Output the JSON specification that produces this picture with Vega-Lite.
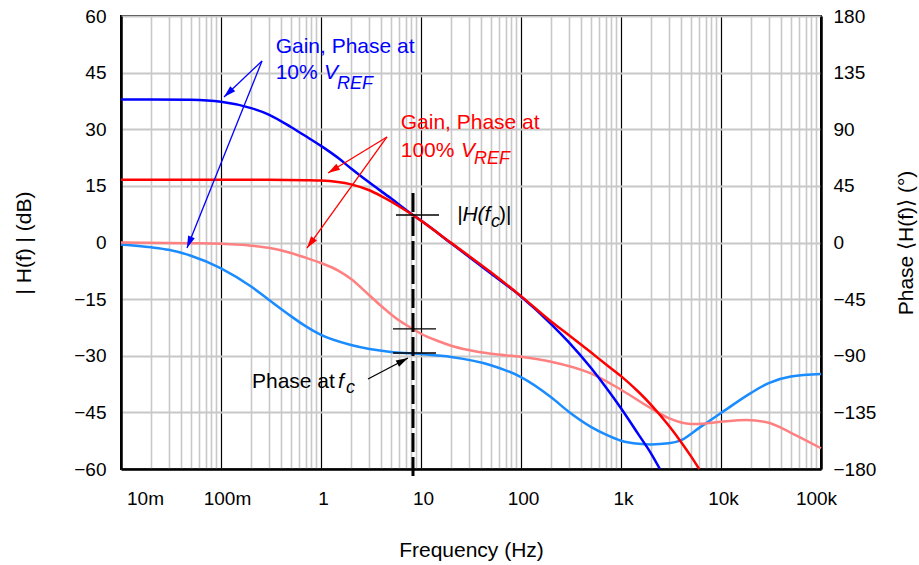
{
  "$schema": "https://vega.github.io/schema/vega-lite/v6.json",
  "width": 700,
  "height": 453,
  "autosize": {"type": "none"},
  "padding": {"left": 121, "top": 16, "right": 98, "bottom": 96},
  "config": {
    "font": "Liberation Sans",
    "view": {"stroke": "black", "strokeWidth": 2},
    "axis": {
      "labelFont": "Liberation Sans", "labelFontSize": 19, "labelColor": "black",
      "titleFont": "Liberation Sans", "titleFontSize": 21, "titleFontWeight": "normal", "titleColor": "black",
      "ticks": false, "domainColor": "black", "domainWidth": 2.5,
      "gridColor": "#c8c8c8", "gridWidth": 2, "labelOverlap": false, "labelFlush": false
    }
  },
  "datasets": {
    "blueGain": [
      {"f": 0.01, "db": 37.9}, {"f": 0.02, "db": 37.9}, {"f": 0.05, "db": 37.8}, {"f": 0.1, "db": 37.3},
      {"f": 0.2, "db": 35.6}, {"f": 0.3, "db": 33.9}, {"f": 0.5, "db": 30.6}, {"f": 0.7, "db": 28.2},
      {"f": 1, "db": 25.6}, {"f": 1.5, "db": 22.3}, {"f": 2, "db": 19.6}, {"f": 3, "db": 16.0},
      {"f": 5, "db": 11.7}, {"f": 8.3, "db": 7.3}, {"f": 10, "db": 5.8}, {"f": 20, "db": -0.2},
      {"f": 50, "db": -8.2}, {"f": 100, "db": -14.3}, {"f": 200, "db": -21.6}, {"f": 300, "db": -26.4},
      {"f": 500, "db": -33.2}, {"f": 700, "db": -38.2}, {"f": 1000, "db": -43.9}, {"f": 1500, "db": -50.9},
      {"f": 2000, "db": -55.9}, {"f": 2450, "db": -60}
    ],
    "redGain": [
      {"f": 0.01, "db": 16.6}, {"f": 0.1, "db": 16.6}, {"f": 0.3, "db": 16.6}, {"f": 0.7, "db": 16.5},
      {"f": 1, "db": 16.4}, {"f": 2, "db": 15.4}, {"f": 3, "db": 13.9}, {"f": 4, "db": 12.3},
      {"f": 5, "db": 10.9}, {"f": 6, "db": 9.6}, {"f": 8.3, "db": 7.3}, {"f": 10, "db": 5.8},
      {"f": 20, "db": -0.1}, {"f": 50, "db": -7.9}, {"f": 100, "db": -14.2}, {"f": 200, "db": -20.9},
      {"f": 300, "db": -24.5}, {"f": 500, "db": -29.1}, {"f": 700, "db": -32.2}, {"f": 1000, "db": -35.4},
      {"f": 1500, "db": -39.6}, {"f": 2000, "db": -43.0}, {"f": 3000, "db": -48.5}, {"f": 4000, "db": -52.9},
      {"f": 5000, "db": -56.6}, {"f": 6050, "db": -60}
    ],
    "bluePhase": [
      {"f": 0.01, "ph": -1.5}, {"f": 0.02, "ph": -3.8}, {"f": 0.03, "ph": -5.8}, {"f": 0.05, "ph": -10.5},
      {"f": 0.1, "ph": -20.5}, {"f": 0.2, "ph": -35}, {"f": 0.3, "ph": -45.5}, {"f": 0.5, "ph": -58.5},
      {"f": 0.7, "ph": -66.5}, {"f": 1, "ph": -73.5}, {"f": 2, "ph": -81.5}, {"f": 5, "ph": -87},
      {"f": 8.3, "ph": -88.2}, {"f": 10, "ph": -88.7}, {"f": 20, "ph": -91}, {"f": 50, "ph": -97.5},
      {"f": 100, "ph": -107}, {"f": 200, "ph": -123}, {"f": 300, "ph": -134.5}, {"f": 500, "ph": -146.5},
      {"f": 700, "ph": -152.5}, {"f": 1000, "ph": -157.5}, {"f": 1500, "ph": -160}, {"f": 2000, "ph": -160.5},
      {"f": 3000, "ph": -159.6}, {"f": 4000, "ph": -157}, {"f": 6000, "ph": -147.5}, {"f": 10000, "ph": -135.5},
      {"f": 20000, "ph": -119.5}, {"f": 30000, "ph": -111.7}, {"f": 50000, "ph": -106.5}, {"f": 100000, "ph": -104.5}
    ],
    "pinkPhase": [
      {"f": 0.01, "ph": 0}, {"f": 0.05, "ph": -0.5}, {"f": 0.1, "ph": -1}, {"f": 0.2, "ph": -2.5},
      {"f": 0.3, "ph": -4.2}, {"f": 0.5, "ph": -8.3}, {"f": 0.7, "ph": -12}, {"f": 1, "ph": -16.3},
      {"f": 1.5, "ph": -22.5}, {"f": 2, "ph": -29}, {"f": 3, "ph": -41.5}, {"f": 4, "ph": -50.5},
      {"f": 5, "ph": -57}, {"f": 6, "ph": -61.8}, {"f": 8.3, "ph": -68.7}, {"f": 10, "ph": -72.5},
      {"f": 15, "ph": -78.5}, {"f": 20, "ph": -82}, {"f": 30, "ph": -85.5}, {"f": 50, "ph": -88.5},
      {"f": 100, "ph": -90.8}, {"f": 200, "ph": -94.7}, {"f": 500, "ph": -104}, {"f": 1000, "ph": -117},
      {"f": 2000, "ph": -131.8}, {"f": 3000, "ph": -139.6}, {"f": 5000, "ph": -144.2}, {"f": 7000, "ph": -143.8},
      {"f": 10000, "ph": -142.5}, {"f": 18000, "ph": -141}, {"f": 30000, "ph": -143.3}, {"f": 50000, "ph": -151.2},
      {"f": 100000, "ph": -163.5}
    ],
    "arrows": [
      {"f": 0.257, "db": 48.08, "f2": 0.1072, "db2": 38.54, "who": "b"},
      {"f": 0.257, "db": 48.08, "f2": 0.0457, "db2": -1.46, "who": "b"},
      {"f": 4.571, "db": 27.95, "f2": 1.175, "db2": 18.41, "who": "r"},
      {"f": 4.571, "db": 27.95, "f2": 0.7244, "db2": -1.46, "who": "r"},
      {"f": 2.951, "db": -36.16, "f2": 7.413, "db2": -30.6, "who": "k"}
    ],
    "heads": [
      {"f": 0.1072, "db": 38.54, "ang": 226.5, "who": "b"},
      {"f": 0.0457, "db": -1.46, "ang": 201.8, "who": "b"},
      {"f": 1.175, "db": 18.41, "ang": 238.6, "who": "r"},
      {"f": 0.7244, "db": -1.46, "ang": 215.8, "who": "r"},
      {"f": 7.413, "db": -30.6, "ang": 62.3, "who": "k"}
    ],
    "textNormal": [
      {"f": 0.352, "db": 51.66, "t": "Gain, Phase at", "who": "b"},
      {"f": 0.352, "db": 45.03, "t": "10%", "who": "b"},
      {"f": 6.266, "db": 31.66, "t": "Gain, Phase at", "who": "r"},
      {"f": 6.266, "db": 24.29, "t": "100%", "who": "r"},
      {"f": 0.204, "db": -36.95, "t": "Phase at", "who": "k"},
      {"f": 60.3, "db": 7.28, "t": ")|", "who": "k"}
    ],
    "textItalic": [
      {"f": 1.072, "db": 45.03, "t": "V", "who": "b"},
      {"f": 25.12, "db": 24.29, "t": "V", "who": "r"},
      {"f": 22.91, "db": 7.28, "t": "|H(f", "who": "k"},
      {"f": 1.479, "db": -36.95, "t": "f", "who": "k"}
    ],
    "textSub": [
      {"f": 1.445, "db": 41.99, "t": "REF", "who": "b"},
      {"f": 33.9, "db": 22.12, "t": "REF", "who": "r"},
      {"f": 50.1, "db": 5.43, "t": "c", "who": "k"},
      {"f": 1.778, "db": -38.54, "t": "c", "who": "k"}
    ]
  },
  "resolve": {"scale": {"y": "independent"}},
  "layer": [
    {
      "layer": [
        {
          "data": {"name": "bluePhase"},
          "mark": {"type": "line", "color": "#1a8cff", "strokeWidth": 2.5, "interpolate": "monotone"},
          "encoding": {
            "x": {"field": "f", "type": "quantitative", "scale": {"type": "log", "domain": [0.01, 100000]}},
            "y": {
              "field": "ph", "type": "quantitative",
              "scale": {"domain": [-180, 180], "nice": false, "zero": false},
              "axis": {
                "orient": "right", "values": [-180, -135, -90, -45, 0, 45, 90, 135, 180],
                "grid": false, "labelPadding": 12, "labelAlign": "left",
                "title": "Phase ⟨H(f)⟩  (°)", "titleAngle": 270, "titleX": 85, "titleY": 226.5,
                "titleAlign": "center", "titleBaseline": "middle"
              }
            }
          }
        },
        {
          "data": {"name": "pinkPhase"},
          "mark": {"type": "line", "color": "#ff8080", "strokeWidth": 2.5, "interpolate": "monotone"},
          "encoding": {
            "x": {"field": "f", "type": "quantitative"},
            "y": {"field": "ph", "type": "quantitative"}
          }
        },
        {
          "data": {"values": [{"f": 5.248, "f2": 14.13, "ph": -68.7}, {"f": 5.248, "f2": 14.13, "ph": -87.8}]},
          "mark": {"type": "rule", "color": "black", "strokeWidth": 1.3},
          "encoding": {
            "x": {"field": "f", "type": "quantitative"},
            "x2": {"field": "f2"},
            "y": {"field": "ph", "type": "quantitative"}
          }
        }
      ]
    },
    {
      "layer": [
        {
          "data": {"name": "blueGain"},
          "mark": {"type": "line", "color": "#0000ff", "strokeWidth": 2.5, "interpolate": "monotone"},
          "encoding": {
            "x": {
              "field": "f", "type": "quantitative",
              "scale": {"type": "log", "domain": [0.01, 100000]},
              "axis": {
                "orient": "bottom",
                "values": [0.01, 0.02, 0.03, 0.04, 0.05, 0.06, 0.07, 0.08, 0.09,
                  0.1, 0.2, 0.3, 0.4, 0.5, 0.6, 0.7, 0.8, 0.9,
                  1, 2, 3, 4, 5, 6, 7, 8, 9,
                  10, 20, 30, 40, 50, 60, 70, 80, 90,
                  100, 200, 300, 400, 500, 600, 700, 800, 900,
                  1000, 2000, 3000, 4000, 5000, 6000, 7000, 8000, 9000,
                  10000, 20000, 30000, 40000, 50000, 60000, 70000, 80000, 90000, 100000],
                "grid": true,
                "gridColor": {"condition": {"test": "abs(log(datum.value)/LN10 - round(log(datum.value)/LN10)) < 0.001", "value": "black"}, "value": "#c8c8c8"},
                "gridWidth": {"condition": {"test": "abs(log(datum.value)/LN10 - round(log(datum.value)/LN10)) < 0.001", "value": 1.2}, "value": 1.6},
                "labelExpr": "abs(log(datum.value)/LN10 - round(log(datum.value)/LN10)) < 0.001 ? format(datum.value, '~s') : ''",
                "labelFlush": false,
                "labelOffset": {"condition": [
                  {"test": "datum.value < 0.015", "value": 24},
                  {"test": "datum.value < 0.15", "value": 6},
                  {"test": "datum.value > 50000", "value": -5}
                ], "value": 2},
                "labelPadding": 20,
                "title": "Frequency (Hz)", "titleX": 350, "titleY": 81,
                "titleAlign": "center", "titleBaseline": "middle"
              }
            },
            "y": {
              "field": "db", "type": "quantitative",
              "scale": {"domain": [-60, 60], "nice": false, "zero": false},
              "axis": {
                "orient": "left", "values": [-60, -45, -30, -15, 0, 15, 30, 45, 60],
                "grid": true, "labelPadding": 15,
                "title": "| H(f) |  (dB)", "titleAngle": 270, "titleX": -97, "titleY": 226.5,
                "titleAlign": "center", "titleBaseline": "middle"
              }
            }
          }
        },
        {
          "data": {"name": "redGain"},
          "mark": {"type": "line", "color": "#ff0000", "strokeWidth": 2.5, "interpolate": "monotone"},
          "encoding": {
            "x": {"field": "f", "type": "quantitative"},
            "y": {"field": "db", "type": "quantitative"}
          }
        },
        {
          "data": {"values": [{"f": 8.318, "db": 13.11, "db2": -62.9}]},
          "mark": {"type": "rule", "color": "black", "strokeWidth": 3, "strokeDash": [19, 5]},
          "encoding": {
            "x": {"field": "f", "type": "quantitative"},
            "y": {"field": "db", "type": "quantitative"},
            "y2": {"field": "db2"}
          }
        },
        {
          "data": {"values": [{"f": 5.623, "f2": 15.14, "db": 7.28}]},
          "mark": {"type": "rule", "color": "black", "strokeWidth": 1.3},
          "encoding": {
            "x": {"field": "f", "type": "quantitative"},
            "x2": {"field": "f2"},
            "y": {"field": "db", "type": "quantitative"}
          }
        },
        {
          "data": {"name": "arrows"},
          "mark": {"type": "rule", "strokeWidth": 1.3},
          "encoding": {
            "x": {"field": "f", "type": "quantitative"},
            "x2": {"field": "f2"},
            "y": {"field": "db", "type": "quantitative"},
            "y2": {"field": "db2"},
            "color": {"field": "who", "type": "nominal", "scale": {"domain": ["b", "r", "k"], "range": ["#0000ff", "#ff0000", "#000000"]}, "legend": null}
          }
        },
        {
          "data": {"name": "heads"},
          "mark": {"type": "point", "shape": "M0,0L0.6,2L-0.6,2Z", "filled": true, "size": 144, "opacity": 1},
          "encoding": {
            "x": {"field": "f", "type": "quantitative"},
            "y": {"field": "db", "type": "quantitative"},
            "angle": {"field": "ang", "type": "quantitative", "scale": null},
            "color": {"field": "who", "type": "nominal", "legend": null}
          }
        },
        {
          "data": {"name": "textNormal"},
          "mark": {"type": "text", "align": "left", "baseline": "middle", "fontSize": 21, "font": "Liberation Sans"},
          "encoding": {
            "x": {"field": "f", "type": "quantitative"},
            "y": {"field": "db", "type": "quantitative"},
            "text": {"field": "t"},
            "color": {"field": "who", "type": "nominal", "legend": null}
          }
        },
        {
          "data": {"name": "textItalic"},
          "mark": {"type": "text", "align": "left", "baseline": "middle", "fontSize": 21, "fontStyle": "italic", "font": "Liberation Sans"},
          "encoding": {
            "x": {"field": "f", "type": "quantitative"},
            "y": {"field": "db", "type": "quantitative"},
            "text": {"field": "t"},
            "color": {"field": "who", "type": "nominal", "legend": null}
          }
        },
        {
          "data": {"name": "textSub"},
          "mark": {"type": "text", "align": "left", "baseline": "middle", "fontSize": 18, "fontStyle": "italic", "font": "Liberation Sans"},
          "encoding": {
            "x": {"field": "f", "type": "quantitative"},
            "y": {"field": "db", "type": "quantitative"},
            "text": {"field": "t"},
            "color": {"field": "who", "type": "nominal", "legend": null}
          }
        }
      ]
    }
  ]
}
